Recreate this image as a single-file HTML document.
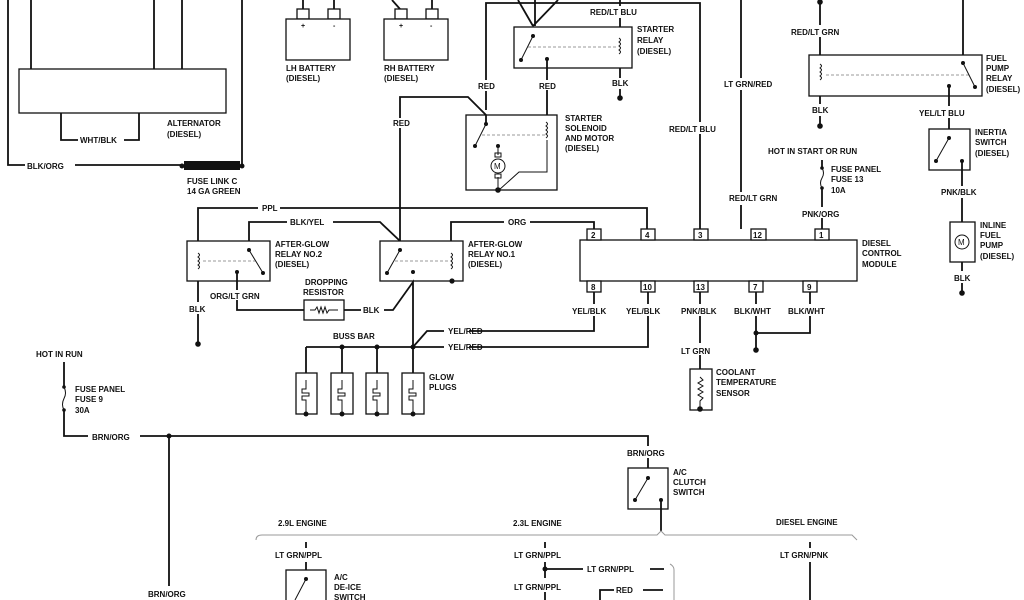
<!DOCTYPE html>
<html><head><meta charset="utf-8"><style>
html,body{margin:0;padding:0;background:#fff;}
svg{display:block;}
text{font-family:"Liberation Sans",sans-serif;font-size:8px;font-weight:bold;fill:#111;}
.w{stroke:#111;stroke-width:1.8;fill:none;}
.b{stroke:#111;stroke-width:1.3;fill:#fff;}
.t{stroke:#111;stroke-width:1;fill:none;}
.d{stroke:#777;stroke-width:0.8;stroke-dasharray:3,2;fill:none;}
.g{stroke:#999;stroke-width:1;fill:none;}
.wh{fill:#fff;stroke:none;}
</style></head><body>
<svg width="1024" height="600" viewBox="0 0 1024 600" xmlns="http://www.w3.org/2000/svg">
<defs>
<g id="coil"><path class="t" d="M0,0 q3,2 0,4 q3,2 0,4 q3,2 0,4 q3,2 0,4"/></g>
</defs>
<!-- Alternator -->
<path class="w" d="M31,0V69M154,0V69M182,0V69"/>
<rect class="b" x="19" y="69" width="207" height="44"/>
<path class="w" d="M61,113V140H78M124,140H139V113"/>
<text x="80" y="143">WHT/BLK</text>
<text x="167" y="126">ALTERNATOR</text><text x="167" y="137">(DIESEL)</text>
<path class="w" d="M8,0V165H25M75,165H182"/>
<text x="27" y="169">BLK/ORG</text>
<rect x="184" y="161" width="56" height="9" fill="#111"/>
<circle cx="182" cy="166" r="2.5" fill="#111"/><circle cx="242" cy="166" r="2.5" fill="#111"/>
<path class="w" d="M242,0V165"/>
<text x="187" y="184">FUSE LINK C</text><text x="187" y="194">14 GA GREEN</text>
<!-- Batteries -->
<path class="w" d="M303,0V9M334,0V9"/>
<rect class="b" x="297" y="9" width="12" height="10"/><rect class="b" x="328" y="9" width="12" height="10"/>
<rect class="b" x="286" y="19" width="64" height="41"/>
<text x="301" y="28" style="font-size:7px">+</text><text x="333" y="28" style="font-size:7px">-</text>
<text x="286" y="71">LH BATTERY</text><text x="286" y="81">(DIESEL)</text>
<path class="w" d="M392,0L400,9M432,0V9"/>
<rect class="b" x="395" y="9" width="12" height="10"/><rect class="b" x="426" y="9" width="12" height="10"/>
<rect class="b" x="384" y="19" width="64" height="41"/>
<text x="399" y="28" style="font-size:7px">+</text><text x="430" y="28" style="font-size:7px">-</text>
<text x="384" y="71">RH BATTERY</text><text x="384" y="81">(DIESEL)</text>
<!-- Starter relay -->
<path class="w" d="M518,0L533,26M535,0V26M558,0L533,26"/>
<path class="w" d="M486,110V3H700V229"/>
<rect class="wh" x="476" y="80" width="20" height="11"/>
<rect class="wh" x="668" y="122" width="50" height="12"/>
<rect class="b" x="514" y="27" width="118" height="41"/>
<circle cx="533" cy="36" r="2" fill="#111"/><circle cx="521" cy="60" r="2" fill="#111"/>
<path class="t" d="M533,36L521,60"/>
<path class="d" d="M528,47H618"/>
<circle cx="547" cy="59" r="2" fill="#111"/>
<path class="w" d="M620,0V6M620,18V27M620,68V78M620,89V98"/>
<use href="#coil" x="619" y="38"/>
<text x="590" y="15">RED/LT BLU</text>
<text x="637" y="32">STARTER</text><text x="637" y="43">RELAY</text><text x="637" y="54">(DIESEL)</text>
<text x="612" y="86">BLK</text>
<circle cx="620" cy="98" r="2.8" fill="#111"/>
<path class="w" d="M547,59V80M547,90V115"/>
<text x="539" y="89">RED</text>
<text x="478" y="89">RED</text>
<!-- Starter solenoid -->
<rect class="b" x="466" y="115" width="91" height="75"/>
<path class="w" d="M400,260V128M400,118V97H468L486,115V124"/>
<text x="393" y="126">RED</text>
<circle cx="486" cy="124" r="2" fill="#111"/><circle cx="475" cy="146" r="2" fill="#111"/>
<path class="t" d="M486,124L475,146"/>
<path class="d" d="M482,135H545"/>
<use href="#coil" x="546" y="122"/>
<path class="t" d="M547,140V172H519L499,190"/>
<circle cx="498" cy="146" r="2" fill="#111"/>
<path class="t" d="M498,146V155M498,177V190"/>
<circle cx="498" cy="166" r="7" class="t"/><rect x="495" y="153" width="6" height="4" class="t"/><rect x="495" y="174" width="6" height="4" class="t"/>
<text x="494" y="169" style="font-size:8px;font-weight:normal">M</text>
<circle cx="498" cy="190" r="2.8" fill="#111"/>
<text x="565" y="121">STARTER</text><text x="565" y="131">SOLENOID</text><text x="565" y="141">AND MOTOR</text><text x="565" y="151">(DIESEL)</text>
<!-- mid columns -->
<text x="669" y="132">RED/LT BLU</text>
<path class="w" d="M741,0V78M741,90V192M741,205V229"/>
<text x="724" y="87">LT GRN/RED</text>
<text x="729" y="201">RED/LT GRN</text>
<!-- Fuel pump relay -->
<path class="w" d="M820,0V25M820,37V55M820,96V104M820,116V126M963,0V55"/>
<circle cx="820" cy="2" r="2.8" fill="#111"/>
<text x="791" y="35">RED/LT GRN</text>
<rect class="b" x="809" y="55" width="173" height="41"/>
<use href="#coil" x="820" y="64"/>
<path class="d" d="M826,75H970"/>
<circle cx="963" cy="63" r="2" fill="#111"/><circle cx="975" cy="87" r="2" fill="#111"/>
<path class="t" d="M963,63L975,87"/>
<circle cx="949" cy="86" r="2" fill="#111"/>
<text x="986" y="61">FUEL</text><text x="986" y="71">PUMP</text><text x="986" y="81">RELAY</text><text x="986" y="92">(DIESEL)</text>
<text x="812" y="113">BLK</text>
<circle cx="820" cy="126" r="2.8" fill="#111"/>
<path class="w" d="M949,86V106M949,118V129"/>
<text x="919" y="116">YEL/LT BLU</text>
<rect class="b" x="929" y="129" width="41" height="41"/>
<circle cx="949" cy="138" r="2" fill="#111"/><circle cx="936" cy="161" r="2" fill="#111"/><circle cx="962" cy="161" r="2" fill="#111"/>
<path class="t" d="M949,138L936,161"/>
<text x="975" y="135">INERTIA</text><text x="975" y="145">SWITCH</text><text x="975" y="156">(DIESEL)</text>
<path class="w" d="M962,161V186M962,198V222M962,262V271M962,283V293"/>
<text x="941" y="195">PNK/BLK</text>
<rect class="b" x="950" y="222" width="25" height="40"/>
<circle cx="962" cy="242" r="7" class="t"/><text x="958" y="245" style="font-weight:normal">M</text>
<text x="980" y="228">INLINE</text><text x="980" y="238">FUEL</text><text x="980" y="248">PUMP</text><text x="980" y="259">(DIESEL)</text>
<text x="954" y="281">BLK</text>
<circle cx="962" cy="293" r="2.8" fill="#111"/>
<!-- fuse 13 -->
<text x="768" y="154">HOT IN START OR RUN</text>
<path class="w" d="M822,160V168M822,188V207M822,218V229"/>
<path class="t" d="M822,168q3,5 0,10q-3,5 0,10"/>
<circle cx="822" cy="168" r="1.8" fill="#111"/><circle cx="822" cy="188" r="1.8" fill="#111"/>
<text x="831" y="172">FUSE PANEL</text><text x="831" y="182">FUSE 13</text><text x="831" y="193">10A</text>
<text x="802" y="217">PNK/ORG</text>
<!-- DCM -->
<rect class="b" x="580" y="240" width="277" height="41"/>
<g class="b">
<rect x="587" y="229" width="14" height="11"/><rect x="641" y="229" width="14" height="11"/><rect x="694" y="229" width="14" height="11"/><rect x="751" y="229" width="15" height="11"/><rect x="815" y="229" width="14" height="11"/>
<rect x="587" y="281" width="14" height="11"/><rect x="641" y="281" width="14" height="11"/><rect x="694" y="281" width="14" height="11"/><rect x="749" y="281" width="14" height="11"/><rect x="803" y="281" width="14" height="11"/>
</g>
<g style="font-size:7px">
<text x="591" y="238">2</text><text x="645" y="238">4</text><text x="698" y="238">3</text><text x="753" y="238">12</text><text x="819" y="238">1</text>
<text x="591" y="290">8</text><text x="643" y="290">10</text><text x="696" y="290">13</text><text x="753" y="290">7</text><text x="807" y="290">9</text>
</g>
<text x="862" y="246">DIESEL</text><text x="862" y="256">CONTROL</text><text x="862" y="267">MODULE</text>
<path class="w" d="M594,292V304M594,316V331H490M648,292V304M648,316V347H490"/>
<text x="572" y="314">YEL/BLK</text><text x="626" y="314">YEL/BLK</text>
<path class="w" d="M700,292V304M700,316V343M700,355V369"/>
<text x="681" y="314">PNK/BLK</text><text x="681" y="354">LT GRN</text>
<rect class="b" x="690" y="369" width="22" height="41"/>
<path class="t" d="M700,377l3,3l-5,3l5,3l-5,3l5,3l-5,3l5,3l-3,3V410"/>
<circle cx="700" cy="409" r="2.8" fill="#111"/>
<text x="716" y="375">COOLANT</text><text x="716" y="385">TEMPERATURE</text><text x="716" y="396">SENSOR</text>
<path class="w" d="M756,292V304M756,316V350M810,292V304M810,316V333H756"/>
<circle cx="756" cy="333" r="2.5" fill="#111"/><circle cx="756" cy="350" r="2.8" fill="#111"/>
<text x="734" y="314">BLK/WHT</text><text x="788" y="314">BLK/WHT</text>
<!-- After-glow relays -->
<path class="w" d="M198,241V208H258M280,208H647V229"/>
<text x="262" y="211">PPL</text>
<path class="w" d="M249,250V222H287M333,222H380L400,241"/>
<text x="290" y="225">BLK/YEL</text>
<path class="w" d="M451,241V222H504M530,222H594V229"/>
<text x="508" y="225">ORG</text>
<rect class="b" x="187" y="241" width="83" height="40"/>
<use href="#coil" x="198" y="253"/>
<path class="d" d="M203,261H257"/>
<circle cx="249" cy="250" r="2" fill="#111"/><circle cx="263" cy="273" r="2" fill="#111"/>
<path class="t" d="M249,250L263,273"/>
<circle cx="237" cy="272" r="2" fill="#111"/>
<text x="275" y="247">AFTER-GLOW</text><text x="275" y="257">RELAY NO.2</text><text x="275" y="267">(DIESEL)</text>
<rect class="b" x="380" y="241" width="83" height="40"/>
<use href="#coil" x="451" y="253"/>
<path class="d" d="M395,261H449"/>
<circle cx="400" cy="250" r="2" fill="#111"/><circle cx="387" cy="273" r="2" fill="#111"/>
<path class="t" d="M400,250L387,273"/>
<circle cx="413" cy="272" r="2" fill="#111"/><circle cx="452" cy="281" r="2.6" fill="#111"/>
<text x="468" y="247">AFTER-GLOW</text><text x="468" y="257">RELAY NO.1</text><text x="468" y="267">(DIESEL)</text>
<path class="w" d="M198,281V302M198,314V343"/>
<text x="189" y="312">BLK</text>
<circle cx="198" cy="344" r="2.8" fill="#111"/>
<path class="w" d="M237,272V290M237,300V310H304"/>
<text x="210" y="299">ORG/LT GRN</text>
<rect class="b" x="304" y="300" width="40" height="20"/>
<path class="t" d="M310,310h5l2,-3l2,6l2,-6l2,6l2,-6l2,6l2,-3h9"/>
<text x="305" y="285">DROPPING</text><text x="303" y="295">RESISTOR</text>
<path class="w" d="M344,310H361M384,310H393L413,282V347"/>
<text x="363" y="313">BLK</text>
<!-- Buss bar / glow plugs -->
<path class="w" d="M306,347H444M413,347L427,331H444M469,331H490M469,347H490"/>
<text x="448" y="334">YEL/RED</text><text x="448" y="350">YEL/RED</text>
<text x="333" y="339">BUSS BAR</text>
<circle cx="342" cy="347" r="2.5" fill="#111"/><circle cx="377" cy="347" r="2.5" fill="#111"/><circle cx="413" cy="347" r="2.5" fill="#111"/>
<path class="w" d="M306,347V373M342,347V373M377,347V373M413,347V373"/>
<g>
<rect class="b" x="296" y="373" width="21" height="41"/><rect class="b" x="331" y="373" width="22" height="41"/><rect class="b" x="366" y="373" width="22" height="41"/><rect class="b" x="402" y="373" width="22" height="41"/>
</g>
<path class="t" d="M306,380V389h-4v4h7v3h-7v4h4V414M342,380V389h-4v4h7v3h-7v4h4V414M377,380V389h-4v4h7v3h-7v4h4V414M413,380V389h-4v4h7v3h-7v4h4V414"/>
<circle cx="306" cy="414" r="2.5" fill="#111"/><circle cx="342" cy="414" r="2.5" fill="#111"/><circle cx="377" cy="414" r="2.5" fill="#111"/><circle cx="413" cy="414" r="2.5" fill="#111"/>
<text x="429" y="380">GLOW</text><text x="429" y="390">PLUGS</text>
<!-- fuse 9 & BRN/ORG -->
<text x="36" y="357">HOT IN RUN</text>
<path class="w" d="M64,362V387M64,410V436H88M140,436H648V446M648,458V468"/>
<path class="t" d="M64,387q3,6 0,11.5q-3,6 0,11.5"/>
<circle cx="64" cy="387" r="1.8" fill="#111"/><circle cx="64" cy="410" r="1.8" fill="#111"/>
<text x="75" y="392">FUSE PANEL</text><text x="75" y="402">FUSE 9</text><text x="75" y="413">30A</text>
<text x="92" y="440">BRN/ORG</text>
<circle cx="169" cy="436" r="2.5" fill="#111"/>
<path class="w" d="M169,436V586"/>
<text x="148" y="597">BRN/ORG</text>
<text x="627" y="456">BRN/ORG</text>
<rect class="b" x="628" y="468" width="40" height="41"/>
<circle cx="648" cy="478" r="2" fill="#111"/><circle cx="635" cy="500" r="2" fill="#111"/><circle cx="661" cy="500" r="2" fill="#111"/>
<path class="t" d="M648,478L635,500"/>
<text x="673" y="475">A/C</text><text x="673" y="485">CLUTCH</text><text x="673" y="495">SWITCH</text>
<path class="w" d="M661,500V531"/>
<!-- engine section -->
<path class="g" d="M256,540Q256,535 262,535H657L661,531L665,535H852L857,540"/>
<text x="278" y="526">2.9L ENGINE</text><text x="513" y="526">2.3L ENGINE</text><text x="776" y="525">DIESEL ENGINE</text>
<path class="w" d="M306,542V548M306,562V570"/>
<text x="275" y="558">LT GRN/PPL</text>
<rect class="b" x="286" y="570" width="40" height="40"/>
<circle cx="306" cy="579" r="2" fill="#111"/><path class="t" d="M306,579L295,600"/>
<text x="334" y="580">A/C</text><text x="334" y="590">DE-ICE</text><text x="334" y="600">SWITCH</text>
<path class="w" d="M545,542V548M545,562V578M545,592V600M545,569H583M650,569H664M600,600V590H614M643,590H663"/>
<circle cx="545" cy="569" r="2.5" fill="#111"/>
<text x="514" y="558">LT GRN/PPL</text><text x="587" y="572">LT GRN/PPL</text><text x="514" y="590">LT GRN/PPL</text><text x="616" y="593">RED</text>
<path class="g" d="M670,564Q674,566 674,570V600"/>
<path class="w" d="M810,542V548M810,562V600"/>
<text x="780" y="558">LT GRN/PNK</text>
</svg>
</body></html>
